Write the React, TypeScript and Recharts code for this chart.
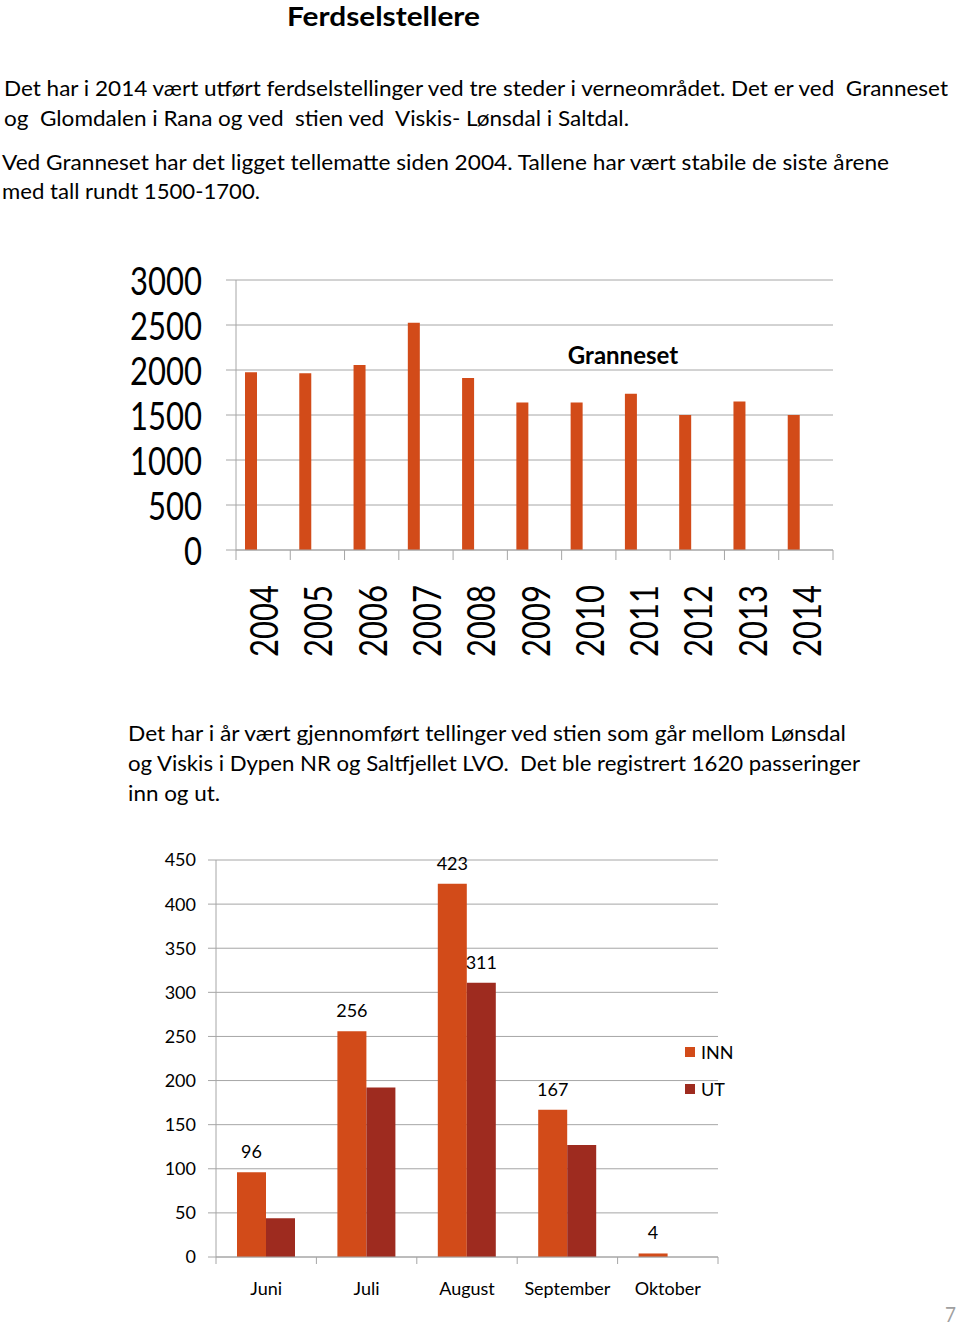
import { Bar, BarChart, CartesianGrid, LabelList, XAxis, YAxis } from "recharts";

const years = ["2004", "2005", "2006", "2007", "2008", "2009", "2010", "2011", "2012", "2013", "2014"];
const grannesetCounts = [1975, 1965, 2055, 2525, 1910, 1640, 1640, 1735, 1500, 1650, 1500];
const grannesetTicks = [0, 500, 1000, 1500, 2000, 2500, 3000];

const months = ["Juni", "Juli", "August", "September", "Oktober"];
const innCounts = [96, 256, 423, 167, 4];
const utCounts = [44, 192, 311, 127, 0];
const utShownLabels = [null, null, 311, null, null];
const passTicks = [0, 50, 100, 150, 200, 250, 300, 350, 400, 450];

const grannesetData = years.map((year, i) => ({ year, count: grannesetCounts[i] }));
const passData = months.map((month, i) => ({
  month,
  inn: innCounts[i],
  ut: utCounts[i],
  utLabel: utShownLabels[i],
}));

const FONT = "Lato, 'Noto Sans', sans-serif";
const GRID = "#a6a6a6";
const ORANGE = "#d24b19";
const DARK_RED = "#9e2b1f";

const passSeries = [
  { key: "inn", name: "INN", color: ORANGE },
  { key: "ut", name: "UT", color: DARK_RED },
];

function Line({ x, y, w, size = 21, bold = false, fill = "#000", children }: any) {
  return (
    <text
      x={x}
      y={y}
      fontSize={size}
      fontWeight={bold ? 700 : 400}
      textLength={w}
      lengthAdjust="spacingAndGlyphs"
      fill={fill}
      style={{ whiteSpace: "pre" }}
    >
      {children}
    </text>
  );
}

// tall narrow numbers of the upper chart
function BigValueTick({ x, y, payload }: any) {
  const label = String(payload.value);
  return (
    <text
      x={x}
      y={y}
      textAnchor="end"
      dominantBaseline="central"
      fontSize={38}
      fontFamily={FONT}
      textLength={label.length * 18}
      lengthAdjust="spacingAndGlyphs"
      fill="#000"
    >
      {label}
    </text>
  );
}

function YearTick({ x, y, payload, index }: any) {
  const half = payload.offset || 597 / years.length / 2;
  const last = index === years.length - 1;
  return (
    <g>
      <line x1={x - half} x2={x - half} y1={y} y2={y + 10} stroke={GRID} />
      {last && <line x1={x + half} x2={x + half} y1={y} y2={y + 10} stroke={GRID} />}
      <text
        x={x}
        y={y + 35}
        transform={`rotate(-90 ${x} ${y + 35})`}
        textAnchor="end"
        dominantBaseline="central"
        fontSize={38}
        fontFamily={FONT}
        textLength={72}
        lengthAdjust="spacingAndGlyphs"
        fill="#000"
      >
        {payload.value}
      </text>
    </g>
  );
}

function MonthTick({ x, y, payload, index }: any) {
  const half = payload.offset || 502 / months.length / 2;
  const last = index === months.length - 1;
  return (
    <g>
      <line x1={x - half} x2={x - half} y1={y} y2={y + 7} stroke={GRID} />
      {last && <line x1={x + half} x2={x + half} y1={y} y2={y + 7} stroke={GRID} />}
      <text x={x} y={y + 38} textAnchor="middle" fontSize={18} fontFamily={FONT} fill="#000">
        {payload.value}
      </text>
    </g>
  );
}

export default function App() {
  return (
    <div
      style={{
        position: "absolute",
        left: 0,
        top: 0,
        width: 960,
        height: 1327,
        background: "#fff",
        overflow: "hidden",
        fontFamily: FONT,
      }}
    >
      <svg width={960} height={1327} style={{ position: "absolute", left: 0, top: 0 }} fontFamily={FONT}>
        <Line x={287} y={26} w={193} size={27} bold>Ferdselstellere</Line>
        <Line x={4} y={96} w={944}>
          Det har i 2014 vært utført ferdselstellinger ved tre steder i verneområdet. Det er ved  Granneset
        </Line>
        <Line x={4} y={126} w={625}>og  Glomdalen i Rana og ved  stien ved  Viskis- Lønsdal i Saltdal.</Line>
        <Line x={2} y={170} w={887}>
          Ved Granneset har det ligget tellematte siden 2004. Tallene har vært stabile de siste årene
        </Line>
        <Line x={2} y={199} w={258}>med tall rundt 1500-1700.</Line>
        <Line x={128} y={741} w={718}>
          Det har i år vært gjennomført tellinger ved stien som går mellom Lønsdal
        </Line>
        <Line x={128} y={771} w={732}>
          og Viskis i Dypen NR og Saltfjellet LVO.  Det ble registrert 1620 passeringer
        </Line>
        <Line x={128} y={801} w={92}>inn og ut.</Line>
        <Line x={945} y={1322} w={11} size={21} fill="#a0a0a0">7</Line>
      </svg>

      <div style={{ position: "absolute", left: 0, top: 250 }}>
        <BarChart
          width={960}
          height={420}
          data={grannesetData}
          margin={{ top: 30, right: 127, bottom: 0, left: 0 }}
          barSize={12}
          barGap={12}
        >
          <CartesianGrid vertical={false} stroke={GRID} />
          <XAxis
            dataKey="year"
            height={120}
            interval={0}
            tickLine={false}
            tickSize={0}
            tickMargin={0}
            stroke={GRID}
            tick={<YearTick />}
          />
          <YAxis
            width={236}
            domain={[0, 3000]}
            ticks={grannesetTicks}
            interval={0}
            tickSize={10}
            tickMargin={24}
            stroke={GRID}
            tick={<BigValueTick />}
          />
          <Bar dataKey="count" fill={ORANGE} isAnimationActive={false} />
          <Bar dataKey="spare" fill="none" isAnimationActive={false} />
        </BarChart>
      </div>
      <div
        style={{
          position: "absolute",
          left: 523,
          width: 200,
          top: 340,
          textAlign: "center",
          fontSize: 24,
          fontWeight: 700,
          color: "#000",
        }}
      >
        Granneset
      </div>

      <div style={{ position: "absolute", left: 0, top: 840, width: 960, height: 462, overflow: "hidden" }}>
        <BarChart
          width={960}
          height={462}
          data={passData}
          margin={{ top: 20, right: 242, bottom: 6, left: 0 }}
          barSize={29}
          barGap={0}
        >
          <CartesianGrid vertical={false} stroke={GRID} />
          <XAxis
            dataKey="month"
            height={39}
            interval={0}
            tickLine={false}
            tickSize={0}
            tickMargin={0}
            stroke={GRID}
            tick={<MonthTick />}
          />
          <YAxis
            width={216}
            domain={[0, 450]}
            ticks={passTicks}
            interval={0}
            tickSize={8}
            tickMargin={12}
            stroke={GRID}
            tick={{ fill: "#000", fontSize: 18, fontFamily: FONT }}
          />
          <Bar dataKey="inn" name="INN" fill={ORANGE} isAnimationActive={false}>
            <LabelList dataKey="inn" position="top" offset={14} fill="#000" fontSize={18} fontFamily={FONT} />
          </Bar>
          <Bar dataKey="ut" name="UT" fill={DARK_RED} isAnimationActive={false}>
            <LabelList dataKey="utLabel" position="top" offset={14} fill="#000" fontSize={18} fontFamily={FONT} />
          </Bar>
        </BarChart>
        <div style={{ position: "absolute", left: 685, top: 193, fontSize: 18, color: "#000" }}>
          {passSeries.map((s) => (
            <div key={s.key} style={{ display: "flex", alignItems: "center", height: 37 }}>
              <span style={{ width: 10, height: 10, background: s.color, marginRight: 6 }} />
              {s.name}
            </div>
          ))}
        </div>
      </div>
    </div>
  );
}
